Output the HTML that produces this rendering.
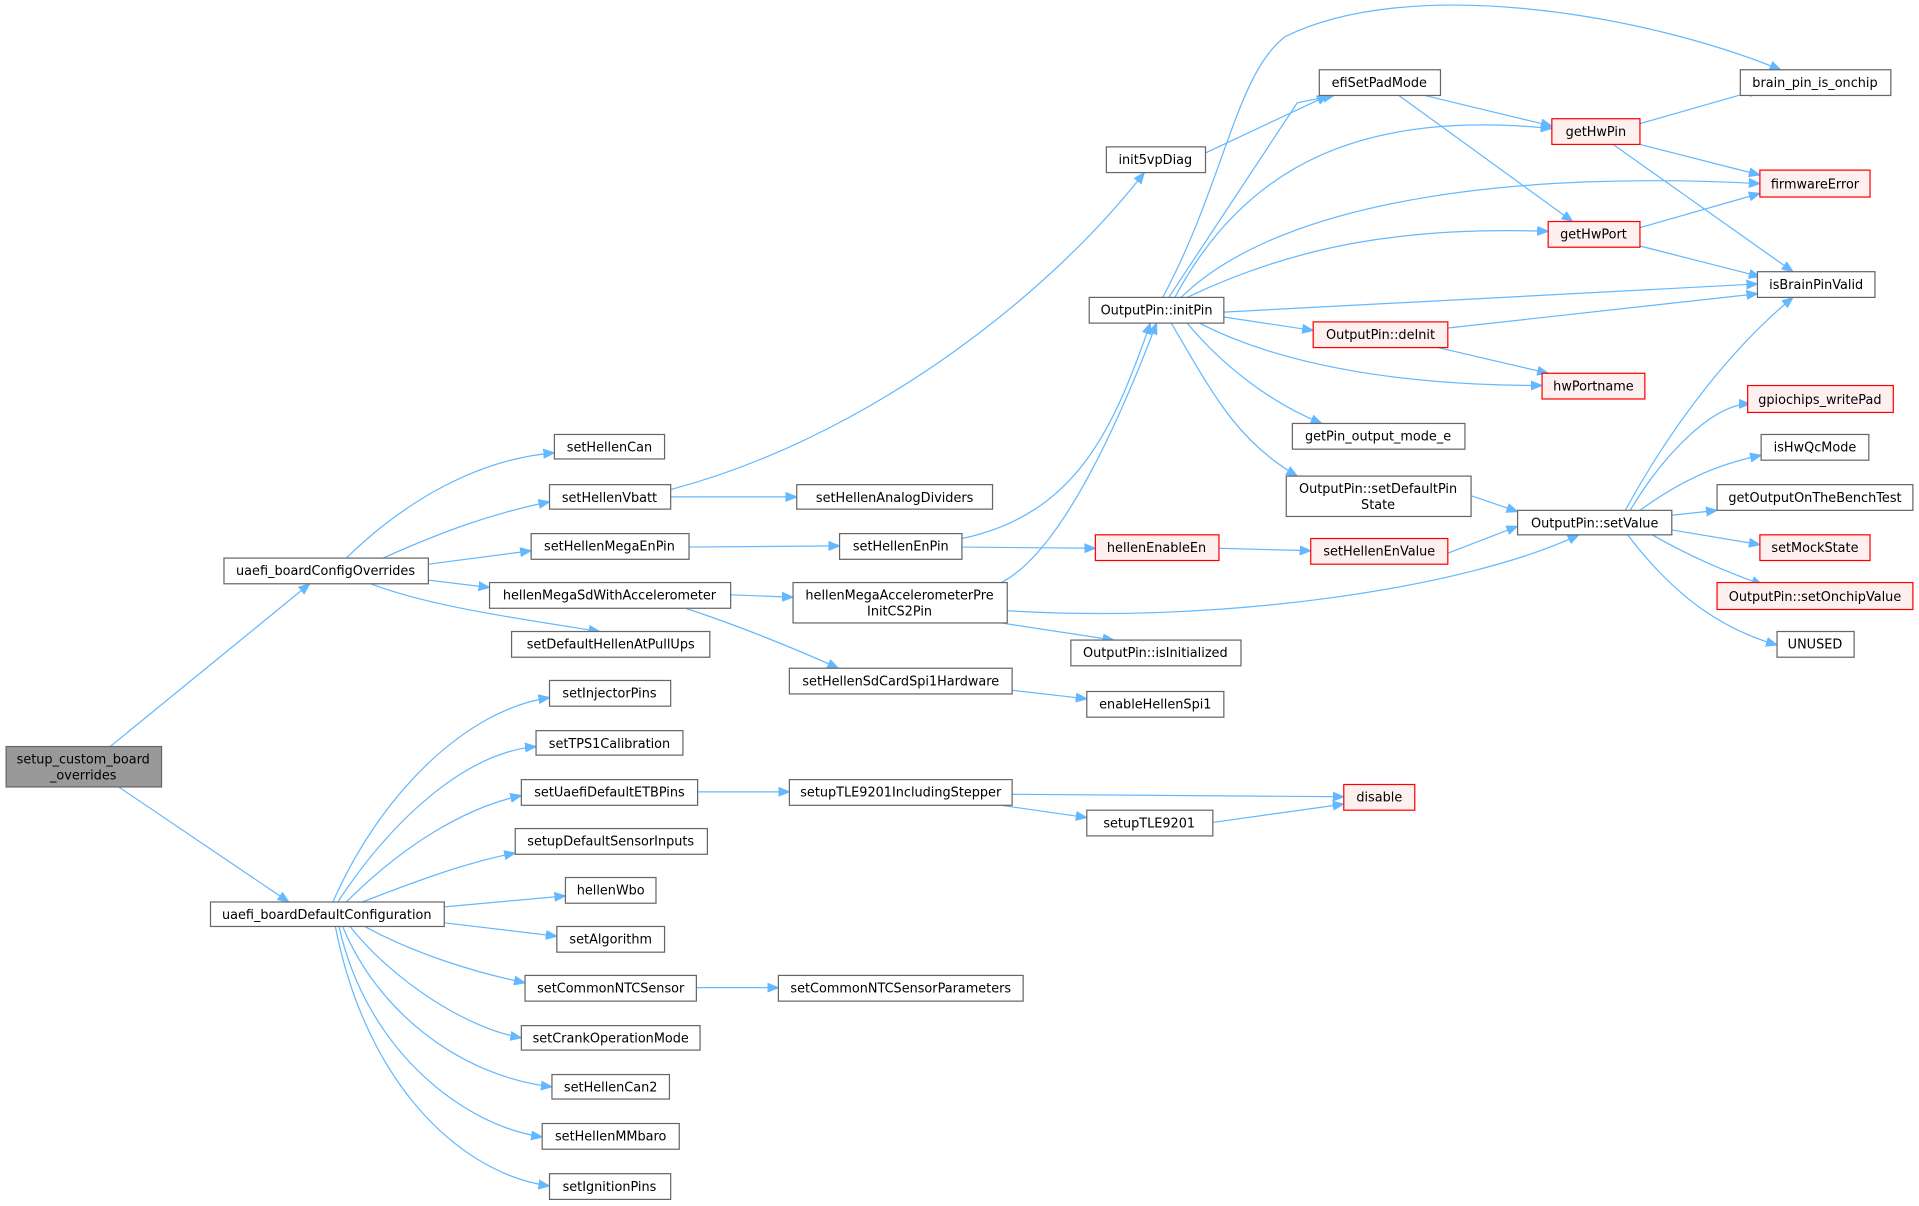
<!DOCTYPE html>
<html><head><meta charset="utf-8"><style>
html,body{margin:0;padding:0;background:#fff;}
svg{display:block}
text{font-family:"DejaVu Sans","Liberation Sans",sans-serif;font-size:10.5px;fill:#000;text-anchor:middle}
.n rect{fill:#fff;stroke:#666;stroke-width:1}
.r rect{fill:#fff0f0;stroke:#f00;stroke-width:1}
.g rect{fill:#999;stroke:#666}
path{fill:none;stroke:#63b8ff;stroke-width:1}
</style></head><body>
<svg width="1919" height="1206" viewBox="0 0 1568 985.4" preserveAspectRatio="none" xmlns="http://www.w3.org/2000/svg">
<defs><marker id="a" viewBox="0 0 10 10" refX="10" refY="5" markerWidth="9" markerHeight="9" markerUnits="userSpaceOnUse" orient="auto"><path d="M0,1 L10,5 L0,9 z" style="fill:#63b8ff;stroke:#63b8ff"/></marker></defs>
<g marker-end="url(#a)">
<path d="M90,610 L253,477"/>
<path d="M97,643 L236,737"/>
<path d="M283,456 C330,410 390,375 453,370"/>
<path d="M313,456 C360,435 400,420 449,410"/>
<path d="M350,461 L434,450"/>
<path d="M350,474 L400,480"/>
<path d="M303,477 C350,495 420,505 490,516"/>
<path d="M272,737 C310,650 380,580 449,570"/>
<path d="M276,737 C320,670 380,615 438,610"/>
<path d="M283,737 C330,690 380,660 426,650"/>
<path d="M296,737 C340,720 380,705 421,697"/>
<path d="M363,741 L462,732"/>
<path d="M363,754 L455,765"/>
<path d="M298,757 C340,780 390,795 429,803"/>
<path d="M286,757 C320,800 380,840 426,848"/>
<path d="M280,757 C310,830 380,880 451,888"/>
<path d="M277,757 C300,860 380,920 443,929"/>
<path d="M274,757 C300,890 380,960 449,969"/>
<path d="M548,400 C700,360 850,250 935,141"/>
<path d="M548,406 L651,406"/>
<path d="M563,447 L686,446"/>
<path d="M597,486 L648,488"/>
<path d="M560,497 C600,510 650,530 685,546"/>
<path d="M786,440 C880,420 910,350 940,264"/>
<path d="M786,447 L895,448"/>
<path d="M818,476 C870,450 920,330 945,264"/>
<path d="M823,499 C1000,510 1200,480 1290,437"/>
<path d="M818,509 L910,523"/>
<path d="M827,564 L888,571"/>
<path d="M570,647 L645,647"/>
<path d="M827,649 L1098,651"/>
<path d="M818,658 L888,668"/>
<path d="M991,672 L1098,657"/>
<path d="M569,807 L636,807"/>
<path d="M985,125 L1085,78"/>
<path d="M955,243 L1060,84 L1090,78"/>
<path d="M950,243 C1000,150 1010,60 1050,30 C1150,-20 1340,10 1455,57"/>
<path d="M960,243 C1020,130 1120,90 1268,105"/>
<path d="M965,243 C1050,160 1250,140 1438,150"/>
<path d="M970,243 C1060,200 1150,185 1265,189"/>
<path d="M1000,255 L1436,232"/>
<path d="M1000,259 L1073,270"/>
<path d="M980,264 C1050,300 1150,315 1260,315"/>
<path d="M970,264 C1000,300 1040,330 1080,346"/>
<path d="M957,264 C990,320 1010,360 1060,389"/>
<path d="M1164,78 L1268,103"/>
<path d="M1143,78 L1285,181"/>
<path d="M1340,101 L1438,73"/>
<path d="M1340,118 L1438,143"/>
<path d="M1318,118 L1465,222"/>
<path d="M1340,186 L1438,158"/>
<path d="M1340,201 L1438,226"/>
<path d="M1183,268 L1436,240"/>
<path d="M1175,284 L1265,305"/>
<path d="M996,448 L1071,450"/>
<path d="M1183,452 L1240,430"/>
<path d="M1202,405 L1240,418"/>
<path d="M1328,417 C1370,340 1420,280 1465,243"/>
<path d="M1332,417 C1360,370 1400,330 1430,330"/>
<path d="M1340,417 C1370,395 1400,380 1439,372"/>
<path d="M1366,421 L1403,417"/>
<path d="M1366,433 L1438,445"/>
<path d="M1350,437 C1390,460 1420,470 1440,478"/>
<path d="M1330,437 C1370,490 1410,515 1452,527"/>
</g>
<g class="g"><rect x="5" y="610" width="127" height="33"/><text x="68" y="624">setup_custom_board</text><text x="68" y="637">_overrides</text></g>
<g class="n">
<rect x="183" y="456" width="167" height="21"/><text x="266" y="470">uaefi_boardConfigOverrides</text>
<rect x="172" y="737" width="191" height="20"/><text x="267" y="751">uaefi_boardDefaultConfiguration</text>
<rect x="453" y="355" width="90" height="20"/><text x="498" y="369">setHellenCan</text>
<rect x="449" y="396" width="99" height="20"/><text x="498" y="410">setHellenVbatt</text>
<rect x="434" y="436" width="129" height="21"/><text x="498" y="450">setHellenMegaEnPin</text>
<rect x="400" y="476" width="197" height="21"/><text x="498" y="490">hellenMegaSdWithAccelerometer</text>
<rect x="418" y="516" width="162" height="21"/><text x="499" y="530">setDefaultHellenAtPullUps</text>
<rect x="449" y="556" width="99" height="21"/><text x="498" y="570">setInjectorPins</text>
<rect x="438" y="597" width="120" height="20"/><text x="498" y="611">setTPS1Calibration</text>
<rect x="426" y="637" width="144" height="21"/><text x="498" y="651">setUaefiDefaultETBPins</text>
<rect x="421" y="677" width="157" height="21"/><text x="499" y="691">setupDefaultSensorInputs</text>
<rect x="462" y="717" width="74" height="21"/><text x="499" y="731">hellenWbo</text>
<rect x="455" y="757" width="88" height="21"/><text x="499" y="771">setAlgorithm</text>
<rect x="429" y="797" width="140" height="21"/><text x="499" y="811">setCommonNTCSensor</text>
<rect x="426" y="838" width="146" height="20"/><text x="499" y="852">setCrankOperationMode</text>
<rect x="451" y="878" width="96" height="20"/><text x="499" y="892">setHellenCan2</text>
<rect x="443" y="918" width="112" height="21"/><text x="499" y="932">setHellenMMbaro</text>
<rect x="449" y="959" width="99" height="21"/><text x="498" y="973">setIgnitionPins</text>
<rect x="904" y="120" width="81" height="21"/><text x="944" y="134">init5vpDiag</text>
<rect x="651" y="396" width="160" height="20"/><text x="731" y="410">setHellenAnalogDividers</text>
<rect x="686" y="436" width="100" height="21"/><text x="736" y="450">setHellenEnPin</text>
<rect x="648" y="476" width="175" height="33"/><text x="735" y="490">hellenMegaAccelerometerPre</text><text x="735" y="503">InitCS2Pin</text>
<rect x="645" y="546" width="182" height="21"/><text x="736" y="560">setHellenSdCardSpi1Hardware</text>
<rect x="888" y="565" width="112" height="21"/><text x="944" y="579">enableHellenSpi1</text>
<rect x="645" y="637" width="182" height="21"/><text x="736" y="651">setupTLE9201IncludingStepper</text>
<rect x="888" y="662" width="103" height="21"/><text x="939" y="676">setupTLE9201</text>
<rect x="636" y="797" width="200" height="21"/><text x="736" y="811">setCommonNTCSensorParameters</text>
<rect x="890" y="243" width="110" height="21"/><text x="945" y="257">OutputPin::initPin</text>
<rect x="1078" y="57" width="99" height="21"/><text x="1127" y="71">efiSetPadMode</text>
<rect x="1422" y="57" width="123" height="21"/><text x="1483" y="71">brain_pin_is_onchip</text>
<rect x="1436" y="222" width="96" height="21"/><text x="1484" y="236">isBrainPinValid</text>
<rect x="1056" y="346" width="141" height="21"/><text x="1126" y="360">getPin_output_mode_e</text>
<rect x="1051" y="389" width="151" height="33"/><text x="1126" y="403">OutputPin::setDefaultPin</text><text x="1126" y="416">State</text>
<rect x="1240" y="417" width="126" height="20"/><text x="1303" y="431">OutputPin::setValue</text>
<rect x="1439" y="355" width="88" height="21"/><text x="1483" y="369">isHwQcMode</text>
<rect x="1403" y="396" width="160" height="21"/><text x="1483" y="410">getOutputOnTheBenchTest</text>
<rect x="1452" y="516" width="63" height="21"/><text x="1483" y="530">UNUSED</text>
<rect x="875" y="523" width="139" height="21"/><text x="944" y="537">OutputPin::isInitialized</text>
</g>
<g class="r">
<rect x="1268" y="97" width="72" height="21"/><text x="1304" y="111">getHwPin</text>
<rect x="1438" y="139" width="90" height="22"/><text x="1483" y="154">firmwareError</text>
<rect x="1265" y="181" width="75" height="21"/><text x="1302" y="195">getHwPort</text>
<rect x="1073" y="263" width="110" height="21"/><text x="1128" y="277">OutputPin::deInit</text>
<rect x="1260" y="305" width="84" height="21"/><text x="1302" y="319">hwPortname</text>
<rect x="895" y="437" width="101" height="21"/><text x="945" y="451">hellenEnableEn</text>
<rect x="1071" y="440" width="112" height="21"/><text x="1127" y="454">setHellenEnValue</text>
<rect x="1428" y="315" width="119" height="22"/><text x="1487" y="330">gpiochips_writePad</text>
<rect x="1438" y="437" width="90" height="21"/><text x="1483" y="451">setMockState</text>
<rect x="1403" y="476" width="160" height="22"/><text x="1483" y="491">OutputPin::setOnchipValue</text>
<rect x="1098" y="641" width="58" height="21"/><text x="1127" y="655">disable</text>
</g>
</svg>
</body></html>
